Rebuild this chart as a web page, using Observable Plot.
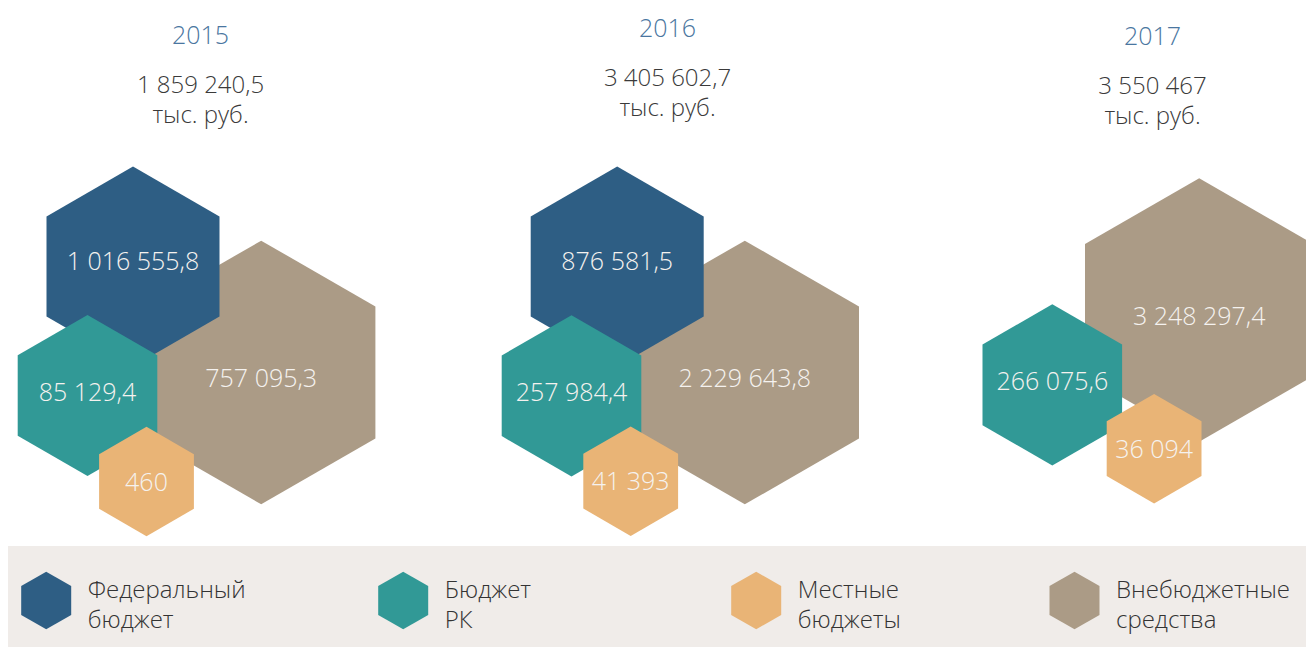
<!DOCTYPE html>
<html><head><meta charset="utf-8">
<script src="https://cdn.jsdelivr.net/npm/d3@7"></script>
<script src="https://cdn.jsdelivr.net/npm/@observablehq/plot@0.6"></script>
<style>
html,body{margin:0;padding:0;background:#fff;}
body{width:1306px;height:647px;overflow:hidden;font-family:"Open Sans",sans-serif;}
#legend{margin-left:8px;}
svg{display:block;}
</style></head><body><div id="chart"></div><div id="legend"></div>
<script>
// ---- data ----
const years = ["2015", "2016", "2017"];
const totals = [1859240.5, 3405602.7, 3550467];
const unitLabel = "тыс. руб.";
const categories = ["Федеральный бюджет", "Бюджет РК", "Местные бюджеты", "Внебюджетные средства"];
const federal = [1016555.8, 876581.5, null];
const regional = [85129.4, 257984.4, 266075.6];
const local = [460, 41393, 36094];
const offbudget = [757095.3, 2229643.8, 3248297.4];

// ---- layout & style (kept apart from the data) ----
const colors = ["#2e5e84", "#319996", "#e9b476", "#ab9b86"];
const hexLayout = [
  [[132.5, 266], [87, 395], [146, 481], [260.7, 372]],
  [[616.7, 266], [571, 395.3], [630.2, 480.7], [744.3, 372]],
  [null, [1051.8, 384.4], [1153.6, 448.2], [1198.7, 309.5]]
];
const hexHalfWidth = [86.5, 69.8, 47.4, 114.2];
const labelDy = [3.5, 5, 9, 14.5];
const drawOrder = [3, 0, 1, 2];
const headerX = [200, 667, 1152];
const headerBase = [[43.3, 122.7], [36, 115], [44.3, 123.3]];
const legendX = [37.7, 394.7, 747.7, 1066];
const FONT = "'Open Sans', sans-serif";
const FS = 25;

const loc = d3.formatLocale({decimal: ",", thousands: "\u00a0", grouping: [3], currency: ["", ""]});
const fInt = loc.format(",d"), fDec = loc.format(",.1f");
const fmt = v => Number.isInteger(v) ? fInt(v) : fDec(v);

const series = [federal, regional, local, offbudget];
const rows = [];
years.forEach((yr, i) => categories.forEach((cat, j) => {
  const v = series[j][i];
  if (v == null) return;
  const L = hexLayout[i][j];
  rows.push({year: yr, yi: i, category: cat, ci: j, value: v, cx: L[0], cy: L[1]});
}));

const marks = [];
for (const j of drawOrder) {
  marks.push(Plot.dot(rows.filter(r => r.ci === j), {
    x: "cx", y: "cy", r: hexHalfWidth[j], symbol: "hexagon", fill: "category"
  }));
}
marks.push(Plot.text(rows, {
  x: "cx", y: d => d.cy + labelDy[d.ci], text: d => fmt(d.value),
  fill: "#f5f2ef", fontSize: FS, fontWeight: 300, lineAnchor: "bottom"
}));
marks.push(Plot.text(years, {
  x: (d, i) => headerX[i], y: (d, i) => headerBase[i][0], text: d => d,
  fill: "#4a76a0", fontSize: FS, fontWeight: 300, lineAnchor: "bottom"
}));
marks.push(Plot.text(totals, {
  x: (d, i) => headerX[i], y: (d, i) => headerBase[i][1], text: d => fmt(d) + "\n" + unitLabel,
  fill: "#3a3a3a", fontSize: 24, fontWeight: 300, lineAnchor: "bottom", lineHeight: 30 / 24
}));

const chart = Plot.plot({
  width: 1306, height: 546, margin: 0,
  x: {type: "linear", domain: [0, 1306], range: [0, 1306], axis: null},
  y: {type: "linear", domain: [0, 546], range: [0, 546], axis: null},
  color: {domain: categories, range: colors},
  style: {fontFamily: FONT, background: "#ffffff"},
  marks
});
document.getElementById("chart").appendChild(chart);

const legend = Plot.plot({
  width: 1298, height: 101, margin: 0,
  x: {type: "linear", domain: [0, 1298], range: [0, 1298], axis: null},
  y: {type: "linear", domain: [0, 101], range: [0, 101], axis: null},
  color: {domain: categories, range: colors},
  style: {fontFamily: FONT, background: "#f0ece9"},
  marks: [
    Plot.dot(categories, {x: (d, i) => legendX[i], y: () => 54, r: 25, symbol: "hexagon", fill: d => d}),
    Plot.text(categories, {
      x: (d, i) => legendX[i] + 41.5, y: () => 81, text: d => d.replace(" ", "\n"),
      textAnchor: "start", lineAnchor: "bottom", lineHeight: 30 / 24,
      fontSize: 24, fontWeight: 300, fill: "#333333"
    })
  ]
});
document.getElementById("legend").appendChild(legend);
</script></body></html>
